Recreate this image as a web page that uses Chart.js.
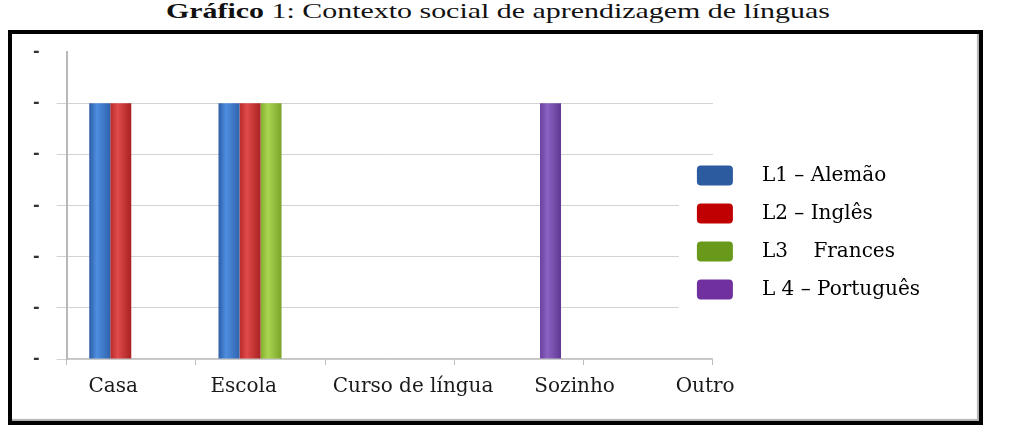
<!DOCTYPE html>
<html lang="pt">
<head>
<meta charset="UTF-8">
<title>Contexto social de aprendizagem de línguas</title>
<style>
  body {
    margin: 0;
    width: 1011px;
    height: 436px;
    background: #fff;
    position: relative;
    overflow: hidden;
    font-family: "Liberation Serif", "Times New Roman", serif;
  }
  .title {
    position: absolute;
    left: 0;
    top: -2px;
    width: 996px;
    text-align: center;
    font-size: 22px;
    line-height: 26px;
    color: #111;
    transform: scaleX(1.36);
  }
  .frame {
    position: absolute;
    left: 8px;
    top: 30px;
    width: 975px;
    height: 395px;
    box-sizing: border-box;
    border: 4px solid #000;
    box-shadow: inset -2px -2px 1px #b0b0b0;
  }
  canvas {
    position: absolute;
    left: 0;
    top: 0;
  }
</style>
</head>
<body>
  <div class="title"><b>Gráfico</b> 1: Contexto social de aprendizagem de línguas</div>
  <div class="frame">
    <canvas id="chart" width="967" height="387"></canvas>
  </div>

  <script src="https://cdn.jsdelivr.net/npm/chart.js"></script>
  <script>
    // categorias e séries
    const categories = ['Casa', 'Escola', 'Curso de língua', 'Sozinho', 'Outro'];
    const alemao = [5, 5, 0, 0, 0];
    const ingles = [5, 5, 0, 0, 0];
    const frances = [0, 5, 0, 0, 0];
    const portugues = [0, 0, 0, 5, 0];
    const seriesNames = ['L1 – Alemão', 'L2 – Inglês', 'L3    Frances', 'L 4 – Português'];
    const yTickLabels = ['-', '-', '-', '-', '-', '-', '-'];

    // where the category names sit along the axis (in category units)
    const labelAt = [0.36, 1.37, 2.68, 3.93, 4.94];

    const barShades = [
      ['#2b5ca6', '#4f8ee0', '#2f63ad'],
      ['#b82a2a', '#e04a4a', '#a82222'],
      ['#82ad2c', '#aad552', '#7aa426'],
      ['#6a40a0', '#8a62c0', '#5f3894']
    ];
    const legendColors = ['#2d5b9f', '#c00000', '#68991a', '#7030a0'];

    function barFill(shade) {
      return function (c) {
        const el = c.element;
        if (!el || typeof el.x !== 'number' || !el.width) return shade[1];
        const x0 = el.x - el.width / 2;
        const g = c.chart.ctx.createLinearGradient(x0, 0, x0 + el.width, 0);
        g.addColorStop(0, shade[0]);
        g.addColorStop(0.35, shade[1]);
        g.addColorStop(1, shade[2]);
        return g;
      };
    }

    // legend sits partly over the plot, like in the original
    const legendShift = {
      id: 'legendShift',
      afterLayout(chart) {
        const lg = chart.legend;
        lg.left -= 34;
        lg.right -= 34;
        lg.top += 2;
        lg.bottom += 2;
      },
      beforeDatasetsDraw(chart) {
        const lg = chart.legend;
        const pad = lg.options.labels.padding;
        const colH = lg.columnSizes ? lg.columnSizes[0].height : 148;
        const y0 = (lg.top + pad + lg.bottom - colH) / 2;
        const ctx = chart.ctx;
        ctx.save();
        ctx.fillStyle = '#fff';
        ctx.fillRect(lg.left, y0 - 5, lg.right - lg.left, colH);
        ctx.restore();
        lg.draw();
      }
    };

    const noPad = (s) => {
      s.paddingLeft = 0;
      s.paddingRight = 0;
      s.paddingTop = 0;
      s.paddingBottom = 0;
    };

    const allSeries = [alemao, ingles, frances, portugues];

    const ctx = document.getElementById('chart').getContext('2d');
    const chart = new Chart(ctx, {
      type: 'bar',
      data: {
        labels: categories,
        datasets: allSeries.map((vals, i) => ({
          label: seriesNames[i],
          data: vals,
          xAxisID: 'x',
          backgroundColor: barFill(barShades[i]),
          borderWidth: 0,
          categoryPercentage: 0.65,
          barPercentage: 1
        }))
      },
      options: {
        responsive: false,
        animation: false,
        layout: {
          padding: { left: 4, right: 15, top: 18, bottom: 12 }
        },
        plugins: {
          tooltip: { enabled: false },
          legend: {
            position: 'right',
            maxWidth: 320,
            labels: {
              boxWidth: 36,
              boxHeight: 20,
              padding: 18,
              color: '#1a1a1a',
              font: { family: 'DejaVu Serif', size: 20 },
              generateLabels: (ch) => ch.data.datasets.map((ds, i) => ({
                text: '   ' + ds.label,
                fillStyle: legendColors[i],
                strokeStyle: legendColors[i],
                lineWidth: 0,
                borderRadius: 4,
                datasetIndex: i,
                hidden: false
              })),
              useBorderRadius: true,
              borderRadius: 4
            }
          }
        },
        scales: {
          x: {
            weight: 0,
            afterFit: noPad,
            grid: {
              drawOnChartArea: false,
              drawTicks: true,
              tickLength: 6,
              color: '#bdbdbd'
            },
            border: { color: '#c4c4c4', width: 1.5 },
            ticks: { display: false }
          },
          xl: {
            type: 'linear',
            position: 'bottom',
            axis: 'x',
            weight: 1,
            offset: false,
            min: 0,
            max: categories.length,
            afterFit: noPad,
            grid: { display: false, drawTicks: false, offset: false },
            border: { display: false },
            afterBuildTicks: (axis) => {
              axis.ticks = labelAt.map(v => ({ value: v }));
            },
            ticks: {
              autoSkip: false,
              maxRotation: 0,
              padding: 10,
              color: '#1a1a1a',
              font: { family: 'DejaVu Serif', size: 20 },
              callback: (v, i) => categories[i]
            }
          },
          y: {
            min: 0,
            max: 6,
            afterFit: noPad,
            ticks: {
              stepSize: 1,
              padding: 17,
              color: '#333',
              font: { family: 'DejaVu Sans', size: 16, weight: 'bold' },
              callback: (v, i) => yTickLabels[i]
            },
            grid: {
              tickLength: 10,
              color: (c) => (c.tick && c.tick.value === 6) ? 'rgba(0,0,0,0)' : '#d3d3d3'
            },
            border: { color: '#b8b8b8', width: 2 }
          }
        }
      },
      plugins: [legendShift]
    });
    chart.update('none');
  </script>
</body>
</html>
